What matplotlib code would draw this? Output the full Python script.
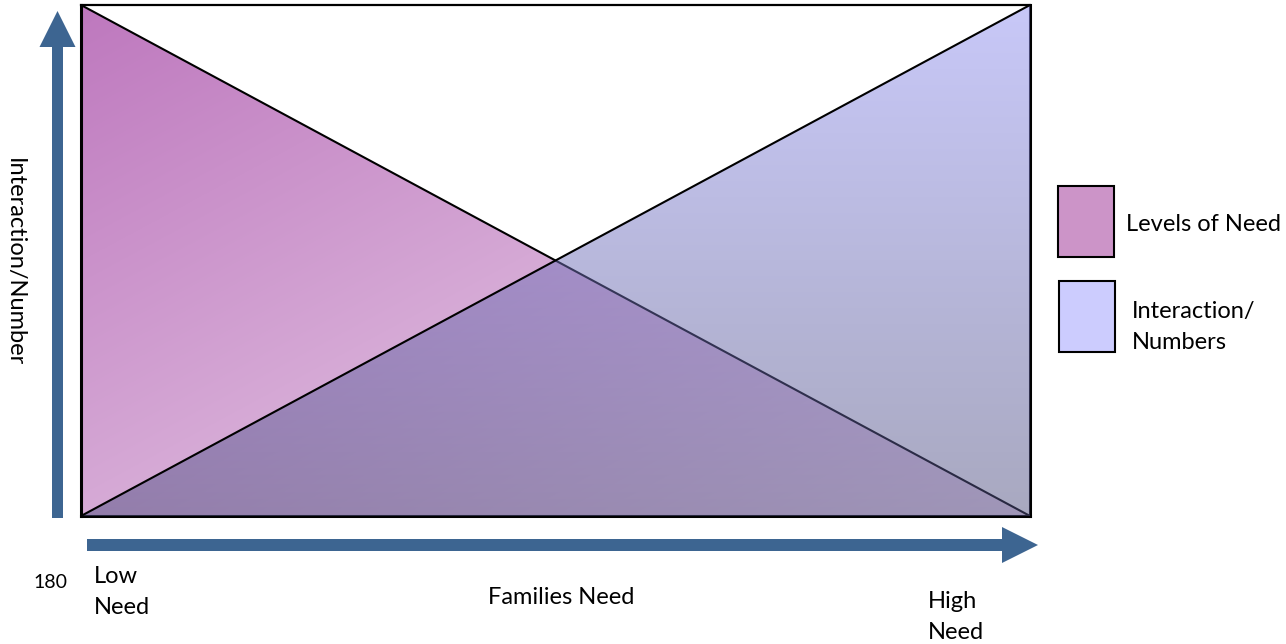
import numpy as np
import matplotlib.pyplot as plt
from matplotlib.patches import FancyArrow, Rectangle

plt.rcParams['font.family'] = ['Lato', 'DejaVu Sans']

# data: families' need on x (Low -> High), both series normalised 0..1
need = [0, 1]
levels_of_need = [1, 0]
interaction = [0, 1]
need_labels = ['Low\nNeed', 'High\nNeed']
series_names = ['Levels of Need', 'Interaction/\nNumbers']
legend_colors = ['#CC94C8', '#CCCCFE']

W, H = 1286, 644
fig = plt.figure(figsize=(W / 100, H / 100), dpi=100)

# main box
ax = fig.add_axes([81 / W, (H - 516) / H, 949 / W, 511 / H])
ax.set_xlim(0, 1)
ax.set_ylim(0, 1)
ax.set_xticks([])
ax.set_yticks([])
for s in ax.spines.values():
    s.set_linewidth(2.2)
    s.set_color('black')
ax.spines['top'].set_linewidth(1.6)

n = 400
u, v = np.meshgrid(np.linspace(0, 1, n), np.linspace(1, 0, n))

# purple triangle, diagonal gradient
t = (u + (1 - v)) / 2
c0 = np.array([190, 120, 190]) / 255
c1 = np.array([238, 220, 238]) / 255
purple = c0 + (c1 - c0) * t[..., None]
poly1 = ax.fill_between(need, 0, levels_of_need, facecolor='none', edgecolor='none')
im1 = ax.imshow(purple, extent=[0, 1, 0, 1], aspect='auto', zorder=1)
im1.set_clip_path(poly1.get_paths()[0], ax.transData)
ax.plot(need, levels_of_need, color='black', lw=1.5, zorder=2)

# blue triangle, vertical gradient, half transparent
b0 = np.array([145, 145, 241]) / 255
b1 = np.array([81, 81, 129]) / 255
tv = (1 - v)
blue = np.dstack([b0 + (b1 - b0) * tv[..., None], np.full((n, n), 0.5)])
poly2 = ax.fill_between(need, 0, interaction, facecolor='none', edgecolor='none')
im2 = ax.imshow(blue, extent=[0, 1, 0, 1], aspect='auto', zorder=3)
im2.set_clip_path(poly2.get_paths()[0], ax.transData)
ax.plot(need, interaction, color='black', lw=1.5, zorder=4)

# overlay in pixel coords for arrows, labels and legend
ov = fig.add_axes([0, 0, 1, 1])
ov.set_xlim(0, W)
ov.set_ylim(H, 0)
ov.axis('off')
ov.patch.set_visible(False)

arrow_color = '#3D6591'
ov.add_patch(FancyArrow(57.5, 518, 0, -507, width=11, head_width=36, head_length=36,
                        length_includes_head=True, color=arrow_color, lw=0))
ov.add_patch(FancyArrow(87, 545, 951, 0, width=12, head_width=36, head_length=36,
                        length_includes_head=True, color=arrow_color, lw=0))

ov.text(14, 262, 'Interaction/Number', rotation=-90, ha='center', va='center', fontsize=17)
ov.text(50, 582, '180', ha='center', va='center', fontsize=14)
ov.text(94, 592, need_labels[0], ha='left', va='center', fontsize=17, linespacing=1.6)
ov.text(928, 617, need_labels[1], ha='left', va='center', fontsize=17, linespacing=1.55)
ov.text(561, 597, 'Families Need', ha='center', va='center', fontsize=17)

# legend
ov.add_patch(Rectangle((1058, 186), 56, 71, facecolor=legend_colors[0], edgecolor='black', lw=1.5))
ov.add_patch(Rectangle((1059, 281), 56, 71, facecolor=legend_colors[1], edgecolor='black', lw=1.5))
ov.text(1126, 224, series_names[0], ha='left', va='center', fontsize=17)
ov.text(1132, 327, series_names[1], ha='left', va='center', fontsize=17, linespacing=1.6)

fig.savefig('out.png', dpi=100)
